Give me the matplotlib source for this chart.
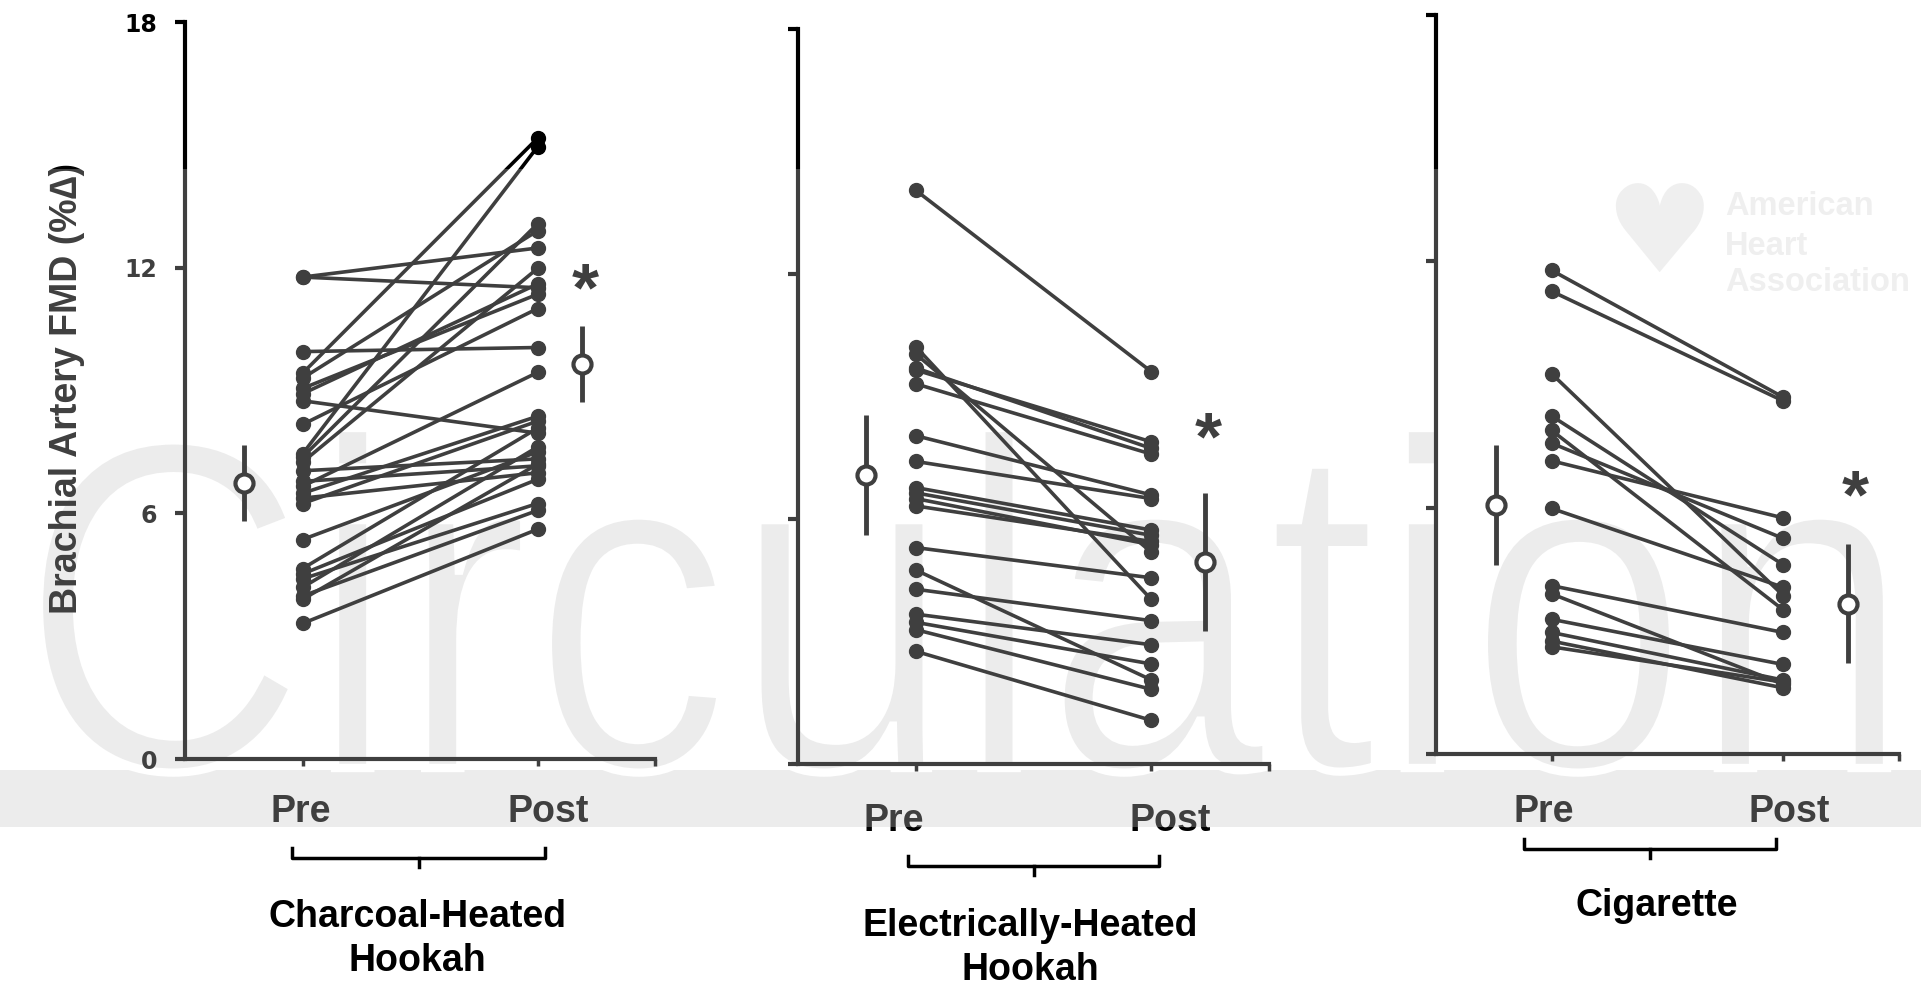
import matplotlib
matplotlib.use("Agg")
import matplotlib.pyplot as plt
from matplotlib.patches import Rectangle, PathPatch
from matplotlib.textpath import TextPath
from matplotlib.font_manager import FontProperties
from matplotlib.transforms import Affine2D, blended_transform_factory

# ---- data (FMD %change) ----
GROUPS = [["Charcoal-Heated", "Hookah"], ["Electrically-Heated", "Hookah"], ["Cigarette"]]
TIMEPOINTS = ["Pre", "Post"]
YTICKS = [0, 6, 12, 18]
YTICK_LABELS = ["0", "6", "12", "18"]
YLABEL = "Brachial Artery FMD (%\u2206)"

pre_charcoal = [11.77, 11.77, 9.95, 9.42, 9.30, 9.05, 8.92, 8.75, 8.17, 7.45, 7.37, 7.25, 7.04,
                6.78, 6.66, 6.49, 6.37, 6.24, 5.36, 4.65, 4.52, 4.40, 4.19, 3.98, 3.90, 3.31]
post_charcoal = [11.51, 12.48, 10.05, 15.16, 12.90, 11.35, 11.60, 7.96, 11.00, 14.95, 13.07, 11.98, 7.33,
                 7.16, 9.44, 8.37, 6.99, 8.25, 7.50, 8.08, 6.83, 6.24, 7.62, 6.07, 7.20, 5.61]

pre_electric = [14.05, 10.22, 10.04, 9.70, 9.65, 9.31, 8.04, 7.41, 6.77, 6.64, 6.50, 6.32,
                5.30, 4.75, 4.28, 3.67, 3.47, 3.29, 2.76]
post_electric = [9.61, 4.03, 5.19, 7.73, 7.89, 7.59, 6.59, 6.50, 5.73, 5.60, 5.37, 5.45,
                 4.56, 2.06, 3.51, 2.92, 2.45, 1.83, 1.07]

pre_cig = [11.78, 11.27, 9.26, 8.23, 7.88, 7.57, 7.14, 5.98, 4.10, 3.90, 3.28, 2.96, 2.75, 2.61]
post_cig = [8.69, 8.60, 3.86, 4.61, 3.51, 5.25, 5.75, 4.06, 2.96, 1.70, 2.18, 1.80, 1.61, 1.75]

pre_mean = [6.74, 7.08, 6.07]
pre_sem = [0.92, 1.47, 1.455]
post_mean = [9.65, 4.95, 3.665]
post_sem = [0.92, 1.69, 1.455]
star_y = [11.68, 8.18, 6.47]

PRE = [pre_charcoal, pre_electric, pre_cig]
POST = [post_charcoal, post_electric, post_cig]

# ---- layout, in pixels of the 1921x988 canvas ----
W, H = 1921, 988
AXES_PX = [(185, 655, 22, 759), (798, 1269, 29, 764), (1436, 1899, 15, 754)]
MEAN_X = [(0.75, 2.19), (0.79, 2.23), (0.76, 2.28)]
STAR_X = [2.205, 2.24, 2.31]
TIME_LABEL_X = [(301, 548), (894, 1170), (1544, 1789)]
TIME_LABEL_BASE = [822, 831, 822]
BRACKET_X = [(0.957, 2.034), (0.966, 2.034), (0.879, 1.97)]
BRACKET_Y = [(848, 858, 867), (856, 866, 875), (839, 849, 858)]
GROUP_X = [417, 1030, 1657]
GROUP_BASELINE = [927, 936, 916]
LINE_GAP = 44

SANS = "Liberation Sans"


def fx(px):
    return px / W


def fy(py):
    return 1 - py / H


fig = plt.figure(figsize=(W / 100, H / 100), dpi=100)

# watermark behind everything
fig.add_artist(Rectangle((0, fy(827)), 1, (827 - 770) / H, transform=fig.transFigure,
                         facecolor="#e6e6e6", edgecolor="none", zorder=-3))
tp = TextPath((0, 0), "Circulation", size=100, prop=FontProperties(family=SANS))
ext = tp.get_extents()
tr = (Affine2D().translate(-ext.x0, 0)
      .scale((1887 - 39) / ext.width, (768 - 428) / ext.y1)
      .translate(39, H - 768).scale(1 / W, 1 / H) + fig.transFigure)
# white outline thins the strokes a bit, the original letters are light
fig.add_artist(PathPatch(tp, transform=tr, facecolor="#e6e6e6", edgecolor="white",
                         linewidth=6, zorder=-2))
fig.text(fx(1659), fy(238), "\u2665", fontsize=88, color="#eaeaea", ha="center", va="center",
         family="DejaVu Sans", zorder=-1)
for word, base in zip(["American", "Heart", "Association"], [215, 255, 291]):
    fig.text(fx(1725), fy(base), word, fontsize=23.5, fontweight="bold", color="#eaeaea",
             family=SANS, va="baseline", zorder=-1)

for i in range(3):
    x0, x1, y0, y1 = AXES_PX[i]
    ax = fig.add_axes([fx(x0), fy(y1), (x1 - x0) / W, (y1 - y0) / H])
    ax.set_facecolor("none")

    for a, b in zip(PRE[i], POST[i]):
        ax.plot([1, 2], [a, b], color="black", lw=2.6, marker="o", ms=10, clip_on=False)

    ax.errorbar(MEAN_X[i], [pre_mean[i], post_mean[i]], yerr=[pre_sem[i], post_sem[i]],
                fmt="o", ms=13, mfc="white", mec="black", mew=3, ecolor="black",
                elinewidth=3.5, capsize=0, clip_on=False)
    ax.annotate("*", xy=(STAR_X[i], star_y[i]), xytext=(0, -21), textcoords="offset points",
                ha="center", va="baseline", fontsize=50, fontweight="bold", family=SANS)

    for side in ["top", "right"]:
        ax.spines[side].set_visible(False)
    for side in ["left", "bottom"]:
        ax.spines[side].set_linewidth(3)
        ax.spines[side].set_color("black")

    ax.set_yticks(YTICKS)
    if i == 0:
        ax.set_yticklabels(YTICK_LABELS, fontsize=17, fontweight="bold", family="DejaVu Sans")
    else:
        ax.set_yticklabels([])
    ax.tick_params(axis="y", length=7, width=3, pad=13, color="black")

    ax.set_xticks([1, 2, 2.5])
    ax.set_xticklabels([])
    ax.tick_params(axis="x", length=5, width=2.5, color="black")
    for lab, px in zip(TIMEPOINTS, TIME_LABEL_X[i]):
        fig.text(fx(px), fy(TIME_LABEL_BASE[i]), lab, fontsize=27, fontweight="bold",
                 family=SANS, ha="center", va="baseline")

    # bracket under Pre/Post
    bt = blended_transform_factory(ax.transData, fig.transFigure)
    bx0, bx1 = BRACKET_X[i]
    top, hor, tick = BRACKET_Y[i]
    ax.plot([bx0, bx0, bx1, bx1], [fy(top), fy(hor), fy(hor), fy(top)], transform=bt,
            color="black", lw=2.5, clip_on=False)
    mid = (bx0 + bx1) / 2
    ax.plot([mid, mid], [fy(hor), fy(tick)], transform=bt, color="black", lw=2.5, clip_on=False)

    ax.set_xlim(0.5, 2.5)
    ax.set_ylim(0, 18)

    for k, line in enumerate(GROUPS[i]):
        fig.text(fx(GROUP_X[i]), fy(GROUP_BASELINE[i] + k * LINE_GAP), line, fontsize=27,
                 fontweight="bold", family=SANS, ha="center", va="baseline")

fig.text(fx(67), fy(388), YLABEL, rotation=90, fontsize=27, fontweight="bold",
         family=SANS, ha="center", va="center")

# the reference has a light wash over the middle band of the image
fig.add_artist(Rectangle((0, fy(827)), 1, (827 - 169) / H, transform=fig.transFigure,
                         facecolor="white", alpha=0.25, edgecolor="none", zorder=10))

fig.savefig("out.png", dpi=100)
